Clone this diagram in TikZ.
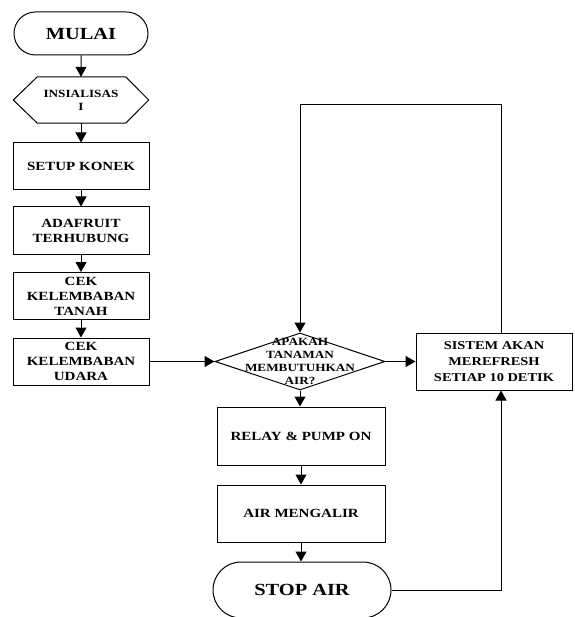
\documentclass[tikz,border=0pt]{standalone}
\usepackage{fontspec}
\setmainfont{Liberation Serif}[FakeStretch=1.2]
\usepackage{tikz}
\usetikzlibrary{positioning,arrows.meta,calc,shapes.geometric,shapes.misc}
\tikzset{
  base/.style    ={draw=black, line width=1pt, align=center, inner sep=1pt, text=black},
  terminal/.style={base, rounded rectangle, font=\fontsize{17}{20}\selectfont\bfseries},
  hexa/.style    ={align=center, inner sep=1pt, minimum width=135pt, minimum height=46pt,
                   font=\fontsize{11}{13}\selectfont\bfseries},
  proses/.style  ={base, rectangle, minimum width=136pt, minimum height=47pt,
                   font=\fontsize{12.5}{15}\selectfont\bfseries},
  aksi/.style    ={base, rectangle, minimum width=168pt, minimum height=58pt,
                   font=\fontsize{12.5}{15}\selectfont\bfseries},
  keputusan/.style={base, diamond, minimum width=170pt, minimum height=57pt, inner sep=0pt},
  dekteks/.style ={align=center, inner sep=0pt, font=\fontsize{11}{13}\selectfont\bfseries},
  flow/.style    ={-{Triangle[length=10pt,width=11pt]}, line width=1pt, draw=black},
  garis/.style   ={line width=1pt, draw=black, line join=miter},
}

\begin{document}
\begin{tikzpicture}[x=1pt, y=-1pt]
  \path[use as bounding box] (0,0) rectangle (574,617);
  \clip (0,0) rectangle (574,617);

  % ===== kolom kiri (inisialisasi) =====
  \node[terminal, minimum width=136pt, minimum height=43pt] (mulai) at (81,33.5) {MULAI};
  \node[hexa] (init) at (81,100) {INSIALISAS\\I};
  \draw[garis] (init.west) -- ($(init.north west)+(24,0)$) -- ($(init.north east)+(-23,0)$)
    -- (init.east) -- ($(init.south east)+(-23,0)$) -- ($(init.south west)+(24,0)$) -- cycle;
  \node[proses] (setup) at (81,166.5) {SETUP KONEK};
  \node[proses] (ada) at (81,230.5) {ADAFRUIT\\TERHUBUNG};
  \node[proses] (tanah) at (81,296) {CEK\\KELEMBABAN\\TANAH};
  \node[proses] (udara) at (81,361.5) {CEK\\KELEMBABAN\\UDARA};

  % ===== kolom tengah (penyiraman) =====
  \node[keputusan, label={[dekteks]center:{APAKAH\\TANAMAN\\MEMBUTUHKAN\\AIR?}}]
    (tanya) at (300,361.5) {};
  \node[aksi] (relay) at (301,436) {RELAY \& PUMP ON};
  \node[aksi, minimum height=57pt] (alir) at (301,513.5) {AIR MENGALIR};
  \node[terminal, minimum width=180pt, minimum height=56pt] (stop) at (302,590) {STOP AIR};

  % ===== kanan (refresh) =====
  \node[proses, minimum width=156pt, minimum height=57pt, font=\fontsize{12}{15.7}\selectfont\bfseries]
    (sistem) at (494,361.5) {SISTEM AKAN\\MEREFRESH\\SETIAP 10 DETIK};

  % ---- titik bantu untuk jalur kembali ----
  \coordinate (naik) at ($(sistem.north)+(7,0)$);
  \coordinate (masuk) at ($(sistem.south)+(7,0)$);
  \coordinate (atas) at (300,105);

  % ===== panah =====
  \draw[flow] (mulai) -- (init);
  \draw[flow] (init) -- (setup);
  \draw[flow] (setup) -- (ada);
  \draw[flow] (ada) -- (tanah);
  \draw[flow] (tanah) -- (udara);
  \draw[flow] (udara.east) -- (tanya.west);
  \draw[flow] (tanya.south) -- (tanya.south |- relay.north);
  \draw[flow] (relay) -- (alir);
  \draw[flow] (alir.south) -- (alir.south |- stop.north);
  \draw[flow] (tanya.east) -- (sistem.west);
  % loop refresh: sistem -> kembali ke keputusan
  \draw[flow] (naik) |- (atas) -- (tanya.north);
  \draw[flow] (stop.east) -| (masuk);

\end{tikzpicture}
\end{document}
